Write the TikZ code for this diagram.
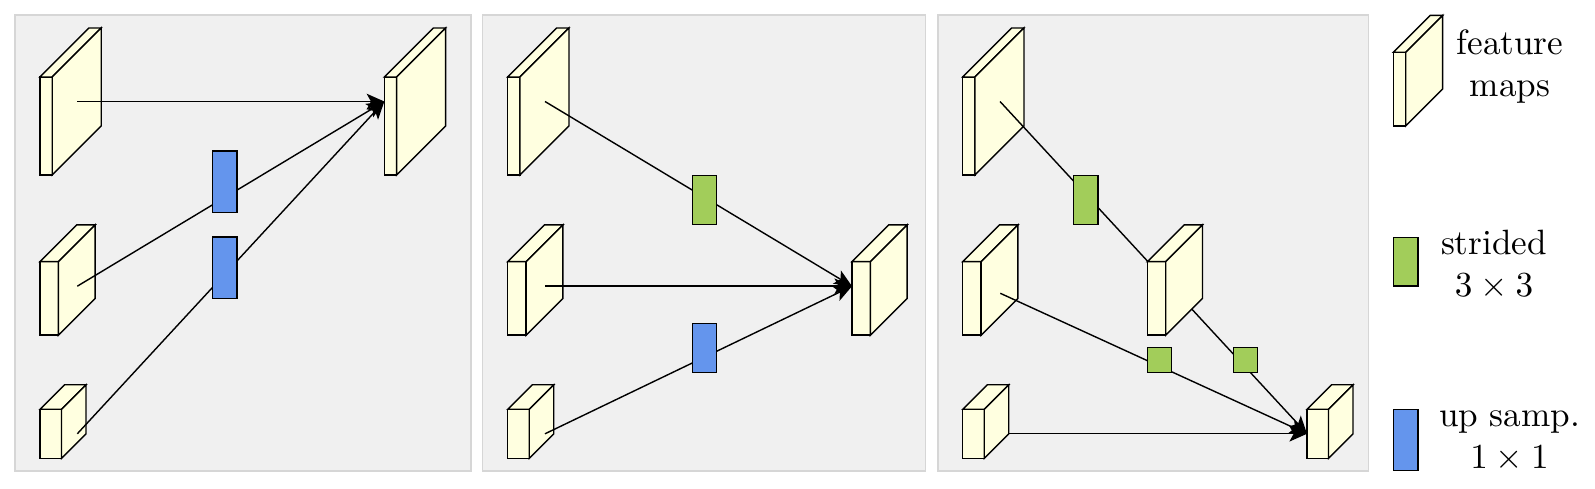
\documentclass[tikz,border=0pt]{standalone}
\usepackage{amsmath}
\usepackage{amssymb}
\usepackage{tikz}
\usetikzlibrary{arrows.meta}

\definecolor{fmyellow}{RGB}{255,255,224}
\definecolor{upblue}{RGB}{100,149,237}
\definecolor{strgreen}{RGB}{162,205,90}
\definecolor{panelgray}{RGB}{240,240,240}
\definecolor{panelline}{RGB}{214,214,214}

% feature map: name, x, y (front top left), width, height
\newcommand{\fmap}[5]{
  \pgfmathsetmacro{\fmd}{#5/2}
  \filldraw[fm] (#2,#3) rectangle ++(#4,#5);
  \filldraw[fm] (#2,#3) -- ++(\fmd,-\fmd) -- ++(#4,0) -- ++(-\fmd,\fmd) -- cycle;
  \filldraw[fm] (#2+#4,#3) -- ++(\fmd,-\fmd) -- ++(0,#5) -- ++(-\fmd,\fmd) -- cycle;
  \coordinate (#1) at (#2+37.3,#3+24.5);
  \coordinate (#1-w) at (#2,#3+24.5);
  \coordinate (#1-e) at (#2+#4+\fmd,#3+24.5);
}

\begin{document}
\begin{tikzpicture}[x=0.01cm,y=-0.01cm]
\tikzstyle{fm}=[draw=black,fill=fmyellow,line join=miter]
\tikzstyle{panel}=[draw=panelline,fill=panelgray]
\tikzstyle{conn}=[-{Stealth[length=5pt,width=4.4pt,inset=1.2pt]}]
\tikzstyle{upsamp}=[draw,fill=upblue,shape=rectangle,inner sep=0pt,minimum width=0.245cm,minimum height=0.613cm]
\tikzstyle{strided}=[draw,fill=strgreen,shape=rectangle,inner sep=0pt,minimum width=0.245cm,minimum height=0.49cm]
\tikzstyle{legtext}=[align=center,inner sep=0pt]
\useasboundingbox (0,0) rectangle (1595,489);

\filldraw[panel] (15,15) rectangle (471,471);
\filldraw[panel] (482.7,15) rectangle (925.7,471);
\filldraw[panel] (938,15) rectangle (1368.7,471);

\fmap{p1a}{40}{77}{12.25}{98}
\fmap{p1b}{40}{261.7}{18.4}{73.5}
\fmap{p1c}{40}{409.3}{21.5}{49}
\fmap{p1t}{384.3}{77}{12.25}{98}
\draw[conn] (p1a) -- (p1t-w);
\draw[conn] (p1b) -- (p1t-w);
\draw[conn] (p1c) -- (p1t-w);
\node[upsamp] (p1u1) at (224.7,181.7) {};
\node[upsamp] (p1u2) at (224.7,267.8) {};

\fmap{p2a}{507.7}{77}{12.25}{98}
\fmap{p2b}{507.7}{261.7}{18.4}{73.5}
\fmap{p2c}{507.7}{409.3}{21.5}{49}
\fmap{p2t}{852}{261.7}{18.4}{73.5}
\draw[conn] (p2a) -- (p2t-w);
\draw[conn] (p2b) -- (p2t-w);
\draw[conn] (p2c) -- (p2t-w);
\node[strided] (p2s) at (704.5,200) {};
\node[upsamp,minimum height=0.49cm] (p2u) at (704.5,347.8) {};

\fmap{p3a}{962.7}{77}{12.25}{98}
\fmap{p3b}{962.7}{261.7}{18.4}{73.5}
\fmap{p3c}{962.7}{409.3}{21.5}{49}
\fmap{p3t}{1307}{409.3}{21.5}{49}
\coordinate (p3b-s) at (1000.3,293.3);
\draw[conn] (p3a) -- (p3t-w);
\draw[conn] (p3b-s) -- (p3t-w);
\draw[conn] (p3c-e) -- (p3t-w);
\fmap{p3m}{1147.3}{261.7}{18.4}{73.5}
\node[strided] (p3s1) at (1085.7,200) {};
\node[strided,minimum height=0.245cm] (p3s2) at (1159.5,360) {};
\node[strided,minimum height=0.245cm] (p3s3) at (1245.5,360) {};

\fmap{legfm}{1393.3}{52.3}{12.4}{73.7}
\node[strided,minimum height=0.487cm] (legstr) at (1405.7,261.7) {};
\node[upsamp] (legup) at (1405.7,440) {};
\node[legtext] (legfmtext) at (1510,66.6) {feature\\maps};
\node[legtext] (legstrtext) at (1494,265) {strided\\$3\times3$};
\node[legtext] (leguptext) at (1509.5,440.8) {up samp.\\$1\times1$};
\end{tikzpicture}
\end{document}
